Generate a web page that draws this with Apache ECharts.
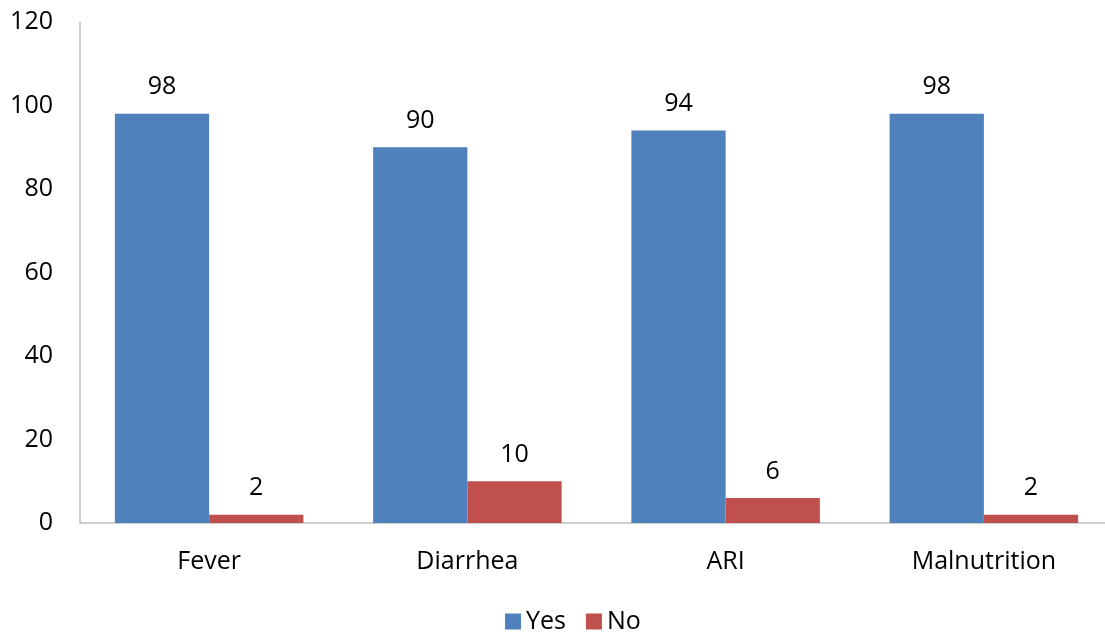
<!DOCTYPE html>
<html>
<head>
<meta charset="utf-8">
<script src="https://cdn.jsdelivr.net/npm/echarts@6/dist/echarts.min.js"></script>
<style>
  html, body { margin: 0; padding: 0; background: #fff; }
  #chart { width: 1105px; height: 635px; }
</style>
</head>
<body>
<div id="chart"></div>
<script>
// Illness categories and response percentages
const categories = ['Fever', 'Diarrhea', 'ARI', 'Malnutrition'];
const yesValues = [98, 90, 94, 98];
const noValues = [2, 10, 6, 2];
const seriesNames = ['Yes', 'No'];

const FONT = '"Open Sans", "Noto Sans", sans-serif';
const textStyle = { fontFamily: FONT, fontSize: 25, color: '#000' };

const chart = echarts.init(document.getElementById('chart'), null, { renderer: 'canvas' });

function barSeries(name, data, color) {
  return {
    name: name,
    type: 'bar',
    data: data,
    barGap: '0%',
    barCategoryGap: '27%',
    itemStyle: { color: color },
    label: {
      show: true,
      position: 'top',
      distance: 14,
      fontFamily: FONT,
      fontSize: 25,
      color: '#000'
    }
  };
}

chart.setOption({
  animation: false,
  backgroundColor: '#fff',
  // plot runs slightly past the right edge of the canvas
  grid: { left: 80, width: 1033, top: 22, height: 501, outerBoundsMode: 'none', containLabel: false },
  legend: {
    top: 604,
    left: 500,
    itemWidth: 16,
    itemHeight: 16,
    itemGap: 20,
    icon: 'rect',
    textStyle: textStyle,
    data: seriesNames
  },
  xAxis: {
    type: 'category',
    data: categories,
    axisLine: { lineStyle: { color: '#bfbfbf', width: 1.5 } },
    axisTick: { show: false },
    axisLabel: Object.assign({ margin: 26 }, textStyle)
  },
  yAxis: {
    type: 'value',
    min: 0,
    max: 120,
    interval: 20,
    axisLine: { show: true, lineStyle: { color: '#bfbfbf', width: 1.5 } },
    axisTick: { show: false },
    splitLine: { show: false },
    axisLabel: Object.assign({ margin: 27 }, textStyle)
  },
  series: [
    barSeries(seriesNames[0], yesValues, '#4F81BD'),
    barSeries(seriesNames[1], noValues, '#C0504D')
  ]
});
</script>
</body>
</html>
